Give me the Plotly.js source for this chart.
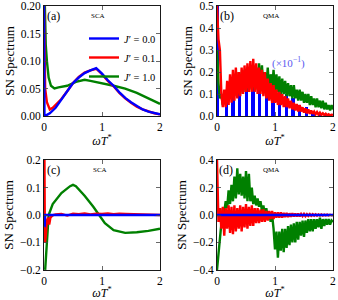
<!DOCTYPE html>
<html>
<head>
<meta charset="utf-8">
<script src="https://cdn.plot.ly/plotly-3.0.1.min.js"></script>
<style>html,body{margin:0;padding:0;background:#fff}#chart{width:338px;height:300px}</style>
</head>
<body>
<div id="chart"></div>
<script>
// ---------- Panel (a): SCA ----------
const aBlueX = [0, 0.008, 0.05, 0.1, 0.2, 0.3, 0.4, 0.5, 0.6, 0.7, 0.8, 0.9, 0.95, 1.0, 1.1, 1.2, 1.3, 1.4, 1.5, 1.6, 1.7, 1.8, 1.9, 2.0];
const aBlueY = [0.2, 0.0, 0.002, 0.005, 0.015, 0.03, 0.045, 0.06, 0.07, 0.078, 0.083, 0.087, 0.082, 0.077, 0.065, 0.055, 0.043, 0.033, 0.025, 0.018, 0.012, 0.008, 0.005, 0.003];
const aRedX = [0, 0.01, 0.02, 0.05, 0.1, 0.15, 0.2, 0.3, 0.4, 0.5, 0.6, 0.7, 0.8, 0.9, 0.95, 1.0, 1.1, 1.2, 1.3, 1.4, 1.5, 1.6, 1.7, 1.8, 1.9, 2.0];
const aRedY = [0.2, 0.08, 0.05, 0.025, 0.012, 0.015, 0.02, 0.031, 0.045, 0.06, 0.071, 0.079, 0.083, 0.086, 0.081, 0.076, 0.064, 0.054, 0.042, 0.032, 0.024, 0.017, 0.012, 0.008, 0.005, 0.003];
const aGreenX = [0.015, 0.03, 0.05, 0.08, 0.12, 0.18, 0.25, 0.4, 0.55, 0.7, 0.8, 1.0, 1.2, 1.4, 1.6, 1.8, 2.0];
const aGreenY = [0.2, 0.13, 0.1, 0.07, 0.055, 0.05, 0.052, 0.055, 0.062, 0.066, 0.064, 0.06, 0.055, 0.05, 0.042, 0.032, 0.022];

// ---------- Panels (b),(d): QMA sampling grid ----------
const qX = [0,0.025,0.05,0.075,0.1,0.125,0.15,0.175,0.2,0.225,0.25,0.275,0.3,0.325,0.35,0.375,0.4,0.425,0.45,0.475,0.5,0.525,0.55,0.575,0.6,0.625,0.65,0.675,0.7,0.725,0.75,0.775,0.8,0.825,0.85,0.875,0.9,0.925,0.95,0.975,1.0,1.025,1.05,1.075,1.1,1.125,1.15,1.175,1.2,1.225,1.25,1.275,1.3,1.325,1.35,1.375,1.4,1.425,1.45,1.475,1.5,1.525,1.55,1.575,1.6,1.625,1.65,1.675,1.7,1.725,1.75,1.775,1.8,1.825,1.85,1.875,1.9,1.925,1.95,1.975,2.0];

// (b)
const bRedY = [0.5,0.35,0.3,0.1,0.04,0.12,0.04,0.16,0.05,0.19,0.06,0.21,0.07,0.22,0.08,0.2,0.09,0.22,0.1,0.23,0.11,0.24,0.11,0.25,0.11,0.26,0.11,0.24,0.1,0.22,0.1,0.21,0.09,0.2,0.08,0.17,0.07,0.15,0.06,0.14,0.06,0.12,0.05,0.11,0.05,0.1,0.04,0.09,0.04,0.08,0.035,0.07,0.03,0.06,0.025,0.055,0.02,0.05,0.02,0.04,0.015,0.035,0.012,0.03,0.01,0.025,0.01,0.02,0.008,0.018,0.006,0.015,0.005,0.012,0.004,0.01,0.003,0.008,0.003,0.006,0.004];
const bGreenY = [0.3,0.15,0.08,0.1,0.05,0.09,0.06,0.12,0.07,0.15,0.08,0.17,0.09,0.18,0.1,0.2,0.1,0.2,0.11,0.21,0.11,0.22,0.12,0.22,0.12,0.23,0.12,0.22,0.12,0.24,0.12,0.23,0.12,0.2,0.12,0.22,0.11,0.19,0.12,0.21,0.11,0.19,0.11,0.18,0.1,0.17,0.1,0.16,0.09,0.15,0.09,0.14,0.08,0.14,0.08,0.12,0.07,0.12,0.07,0.11,0.06,0.1,0.06,0.1,0.05,0.09,0.05,0.08,0.04,0.08,0.04,0.07,0.035,0.07,0.03,0.06,0.03,0.05,0.025,0.05,0.03];
const bBlueX = [0.006, 0.16, 0.275, 0.39, 0.505, 0.62, 0.735, 0.85, 0.965, 1.08, 1.195, 1.31, 1.425, 1.54, 1.655, 1.77, 1.885];
const bBlueY = [0.5, 0.09, 0.14, 0.18, 0.2, 0.2, 0.2, 0.18, 0.15, 0.13, 0.1, 0.08, 0.05, 0.04, 0.025, 0.015, 0.01];

// (c)
const cRedX = [0, 0.008, 0.015, 0.03, 0.05, 0.07, 0.09, 0.11, 0.13, 0.16, 0.2, 0.3, 0.4, 0.5, 0.6, 0.7, 0.8, 0.9, 1.0, 1.1, 1.2, 1.3, 1.4, 1.5, 1.6, 1.8, 2.0];
const cRedY = [0.25, 0.2, -0.1, -0.08, -0.02, -0.01, -0.035, -0.01, -0.005, 0.0, 0.002, 0.004, -0.002, 0.005, 0.003, 0.006, 0.002, 0.005, 0.004, 0.006, 0.003, 0.005, 0.004, 0.003, 0.002, 0.001, 0.0];
const cBlueX = [0.006, 0.012, 0.02, 2.0];
const cBlueY = [-0.04, -0.04, 0.0, 0.0];
const cGreenX = [0.02, 0.05, 0.08, 0.15, 0.3, 0.45, 0.5, 0.55, 0.7, 0.85, 0.95, 1.05, 1.2, 1.4, 1.6, 1.8, 2.0];
const cGreenY = [-0.2, -0.1, 0.0, 0.04, 0.08, 0.105, 0.11, 0.105, 0.07, 0.03, 0.0, -0.03, -0.055, -0.065, -0.063, -0.058, -0.05];

// (d)
const dRedY = [0.4,-0.05,0.05,-0.1,0.06,-0.15,0.05,-0.1,0.07,-0.13,0.06,-0.14,0.07,-0.12,0.05,-0.1,0.07,-0.12,0.06,-0.09,0.08,-0.1,0.06,-0.08,0.07,-0.08,0.05,-0.06,0.05,-0.06,0.04,-0.05,0.04,-0.05,0.03,-0.04,0.03,-0.03,0.03,-0.03,0.02,-0.02,0.02,-0.02,0.02,-0.02,0.015,-0.015,0.015,-0.015,0.012,-0.012,0.012,-0.01,0.01,-0.01,0.01,-0.01,0.008,-0.008,0.008,-0.008,0.006,-0.006,0.006,-0.006,0.005,-0.005,0.005,-0.005,0.004,-0.004,0.004,-0.004,0.003,-0.003,0.003,-0.003,0.002,-0.002,0.0];
const dGreenY = [-0.4,-0.3,-0.15,-0.05,0.05,0.02,0.1,0.05,0.18,0.08,0.22,0.1,0.28,0.12,0.34,0.15,0.3,0.14,0.28,0.12,0.32,0.1,0.3,0.1,0.2,0.08,0.14,0.07,0.12,0.06,0.1,0.03,0.07,0.0,0.05,-0.02,0.02,-0.05,0.0,-0.1,-0.25,-0.12,-0.31,-0.12,-0.26,-0.1,-0.27,-0.1,-0.24,-0.08,-0.22,-0.07,-0.2,-0.06,-0.2,-0.05,-0.18,-0.05,-0.15,-0.04,-0.16,-0.04,-0.13,-0.03,-0.12,-0.03,-0.12,-0.03,-0.1,-0.03,-0.09,-0.02,-0.1,-0.03,-0.08,-0.03,-0.07,-0.03,-0.07,-0.04,-0.05];
const dBlueX = [0, 2.0];
const dBlueY = [0, 0];

const legendNames = ['<i>J</i>′ = 0.0', '<i>J</i>′ = 0.1', '<i>J</i>′ = 1.0'];
const xTicks = [0, 1, 2];
const aTicks = [0, 0.05, 0.10, 0.15, 0.20];
const bTicks = [0, 0.1, 0.2, 0.3, 0.4, 0.5];
const cTicks = [-0.2, -0.1, 0, 0.1, 0.2];
const dTicks = [-0.4, -0.2, 0, 0.2, 0.4];

const BLUE = '#0000ff', RED = '#ff0000', GREEN = '#008000';
const LW = 2.4;
const FONT = 'Liberation Serif';

function ln(x, y, c, xa, ya, name, show) {
  return {x: x, y: y, type: 'scatter', mode: 'lines', line: {color: c, width: LW},
          xaxis: xa, yaxis: ya, name: name || '', showlegend: !!show, hoverinfo: 'skip'};
}

const data = [
  // (a)
  ln(aGreenX, aGreenY, GREEN, 'x', 'y', legendNames[2], true),
  ln(aRedX, aRedY, RED, 'x', 'y', legendNames[1], true),
  ln(aBlueX, aBlueY, BLUE, 'x', 'y', legendNames[0], true),
  // (b)
  ln(qX, bGreenY, GREEN, 'x2', 'y2'),
  ln(qX, bRedY, RED, 'x2', 'y2'),
  {x: bBlueX, y: bBlueY, type: 'bar', width: 0.06, marker: {color: BLUE, line: {width: 0}},
   xaxis: 'x2', yaxis: 'y2', showlegend: false, hoverinfo: 'skip'},
  // (c)
  ln(cGreenX, cGreenY, GREEN, 'x3', 'y3'),
  ln(cRedX, cRedY, RED, 'x3', 'y3'),
  ln(cBlueX, cBlueY, BLUE, 'x3', 'y3'),
  // (d)
  ln(qX, dGreenY, GREEN, 'x4', 'y4'),
  ln(qX, dRedY, RED, 'x4', 'y4'),
  ln(dBlueX, dBlueY, BLUE, 'x4', 'y4')
];

function xax(dom, anchor) {
  return {domain: dom, anchor: anchor, range: [0, 2.0001], tickvals: xTicks, ticktext: xTicks.map(String),
    ticks: 'inside', ticklen: 4, tickwidth: 0.8, mirror: 'allticks', showline: true, linecolor: '#000', linewidth: 0.9,
    showgrid: false, zeroline: false, tickfont: {size: 11.5, family: FONT, color: '#000'},
    title: {text: '<i>ωT</i><sup>*</sup>', font: {size: 12, family: FONT, color: '#000'}, standoff: 3}};
}
function yax(dom, anchor, range, vals, dec) {
  return {domain: dom, anchor: anchor, range: range, tickvals: vals,
    ticktext: vals.map(v => (v < 0 ? '−' : '') + Math.abs(v).toFixed(dec)),
    ticks: 'inside', ticklen: 4, tickwidth: 0.8, mirror: 'allticks', showline: true, linecolor: '#000', linewidth: 0.9,
    showgrid: false, zeroline: false, tickfont: {size: 11.5, family: FONT, color: '#000'},
    title: {text: 'SN Spectrum', font: {size: 13, family: FONT, color: '#000'}, standoff: 3}};
}

const colL = [44/338, 160/338], colR = [217/338, 333/338];
const rowT = [(300-116)/300, (300-6)/300], rowB = [(300-270)/300, (300-160)/300];

function lab(text, x, y, size, color) {
  return {text: text, xref: 'paper', yref: 'paper', x: x/338, y: 1 - y/300, xanchor: 'center', yanchor: 'middle',
          showarrow: false, font: {size: size, family: FONT, color: color || '#000'}};
}

const layout = {
  width: 338, height: 300, margin: {l: 0, r: 0, t: 0, b: 0},
  paper_bgcolor: '#fff', plot_bgcolor: '#fff', bargap: 0,
  font: {family: FONT, color: '#000'},
  xaxis: xax(colL, 'y'), yaxis: yax(rowT, 'x', [0, 0.2002], aTicks, 2),
  xaxis2: xax(colR, 'y2'), yaxis2: yax(rowT, 'x2', [0, 0.5004], bTicks, 1),
  xaxis3: xax(colL, 'y3'), yaxis3: yax(rowB, 'x3', [-0.2003, 0.2003], cTicks, 1),
  xaxis4: xax(colR, 'y4'), yaxis4: yax(rowB, 'x4', [-0.4006, 0.4006], dTicks, 1),
  showlegend: true,
  legend: {x: 84/338, y: 1 - 24/300, xanchor: 'left', yanchor: 'top', bgcolor: 'rgba(0,0,0,0)',
           font: {size: 10.5, family: FONT}, tracegroupgap: 0, traceorder: 'reversed', itemwidth: 30},
  annotations: [
    lab('(a)', 53, 16, 12), lab('SCA', 98, 16, 7),
    lab('(b)', 227, 16, 12), lab('QMA', 271, 16, 7),
    lab('(×10<sup>−1</sup>)', 288, 63, 11, '#5a5af0'),
    lab('(c)', 53, 170, 12), lab('SCA', 100, 170, 7),
    lab('(d)', 226, 170, 12), lab('QMA', 271, 170, 7)
  ]
};

Plotly.newPlot('chart', data, layout, {staticPlot: true, displayModeBar: false});
</script>
</body>
</html>
